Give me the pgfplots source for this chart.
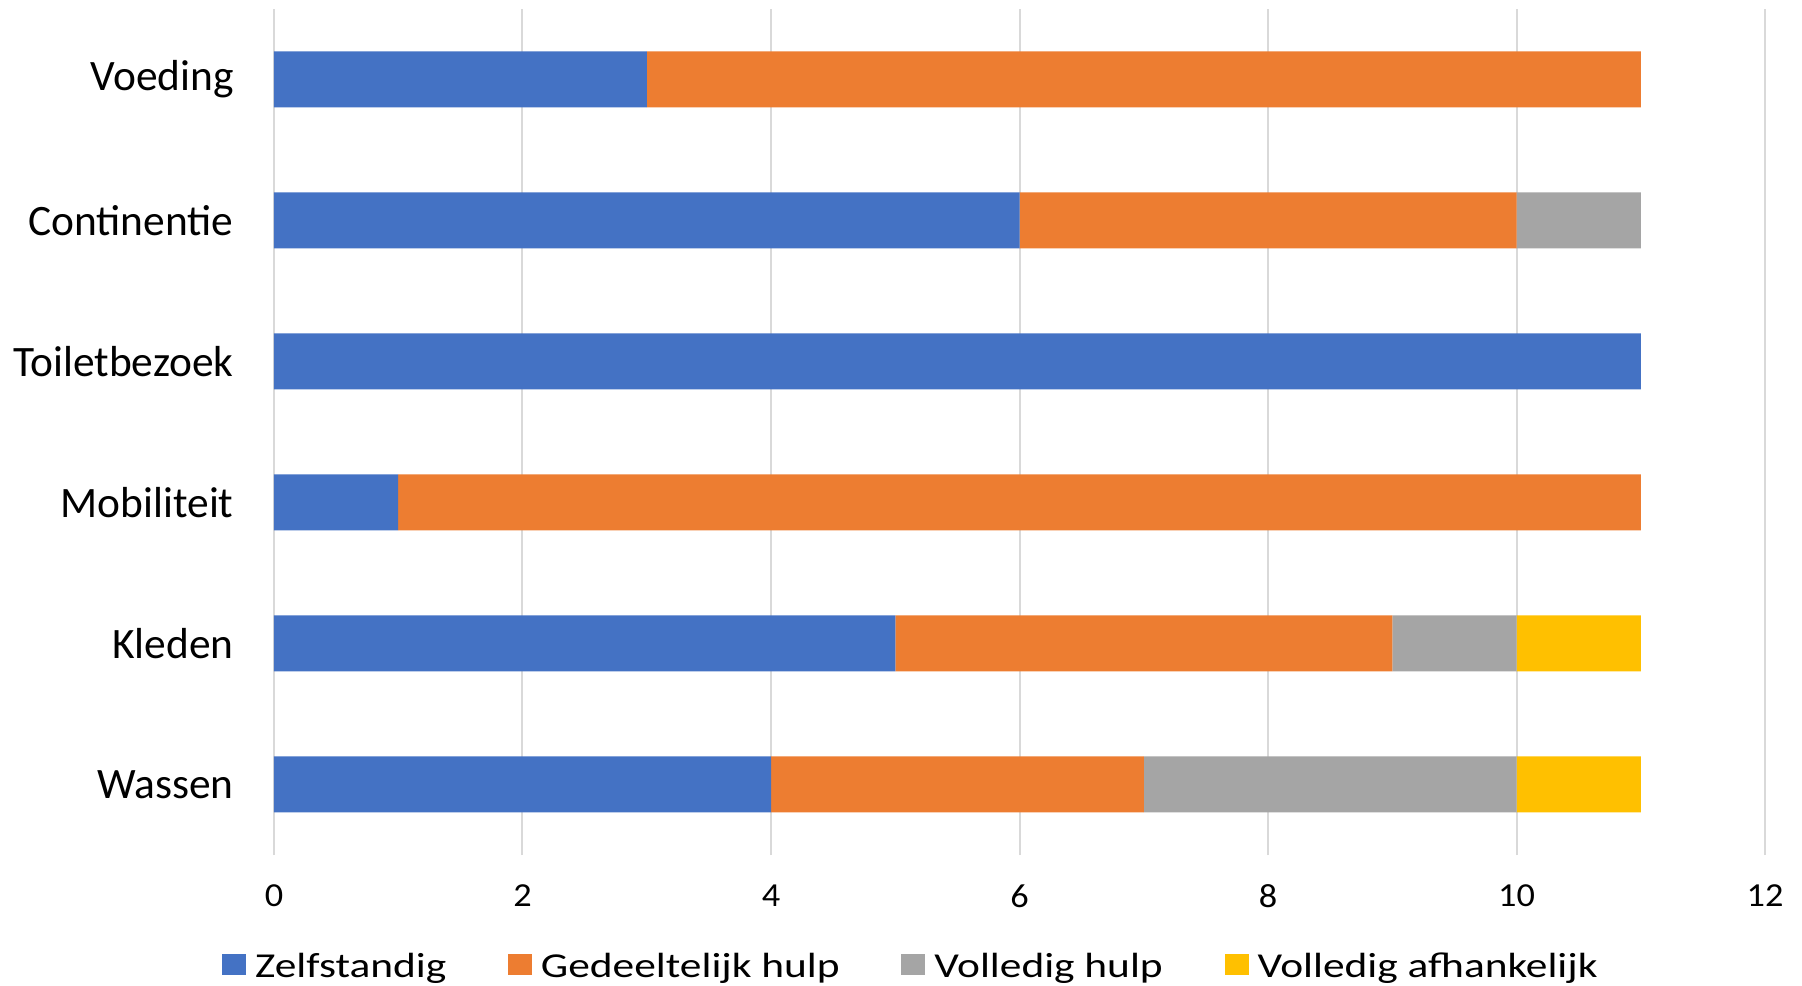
\documentclass[border=0pt]{standalone}
\usepackage{pgfplots}
\pgfplotsset{compat=1.18}
\usepackage{fontspec}
\setmainfont{Carlito}
\newfontfamily\tickfont[FakeStretch=1.08]{Carlito}
\newfontfamily\legfont[FakeStretch=1.24]{Carlito}
\definecolor{cblue}{HTML}{4472C4}
\definecolor{corange}{HTML}{ED7D31}
\definecolor{cgray}{HTML}{A5A5A5}
\definecolor{cyellow}{HTML}{FFC000}
\definecolor{gridgray}{HTML}{D9D9D9}
\begin{document}
\begin{tikzpicture}
\path[use as bounding box] (-137bp,-65.5bp) rectangle (764bp,427.5bp);
\begin{axis}[
  at={(0,0)}, anchor=south west,
  xbar stacked,
  scale only axis,
  width=745.5bp, height=423bp,
  xmin=0, xmax=12, ymin=-0.5, ymax=5.5,
  bar width=28bp,
  ytick={0,1,2,3,4,5},
  yticklabels={Wassen,Kleden,Mobiliteit,Toiletbezoek,Continentie,Voeding},
  xtick={0,2,4,6,8,10,12},
  xmajorgrids,
  grid style={draw=gridgray, line width=1bp},
  axis line style={draw=none},
  major tick length=0pt,
  /pgf/number format/assume math mode=true,
  yticklabel style={font=\fontsize{21.7bp}{26bp}\selectfont, inner sep=0pt, anchor=east, xshift=-20bp},
  xticklabel style={font=\tickfont\fontsize{16.8bp}{20bp}\selectfont, inner sep=0pt, anchor=center, yshift=-20.5bp},
  legend columns=4,
  legend style={
    at={(axis description cs:0.4265,0)}, anchor=center, yshift=-56bp,
    draw=none, fill=none,
    font=\legfont\fontsize{17.5bp}{21bp}\selectfont,
    nodes={inner sep=0pt},
    /tikz/every odd column/.append style={column sep=4.5bp},
    /tikz/every even column/.append style={column sep=30.8bp},
  },
  legend image code/.code={\fill[#1] (0bp,-4bp) rectangle (12bp,6.5bp);},
]
\addplot[fill=cblue, draw=none] coordinates {(4,0) (5,1) (1,2) (11,3) (6,4) (3,5)};
\addlegendentry{Zelfstandig}
\addplot[fill=corange, draw=none] coordinates {(3,0) (4,1) (10,2) (0,3) (4,4) (8,5)};
\addlegendentry{Gedeeltelijk hulp}
\addplot[fill=cgray, draw=none] coordinates {(3,0) (1,1) (0,2) (0,3) (1,4) (0,5)};
\addlegendentry{Volledig hulp}
\addplot[fill=cyellow, draw=none] coordinates {(1,0) (1,1) (0,2) (0,3) (0,4) (0,5)};
\addlegendentry{Volledig afhankelijk}
\end{axis}
\end{tikzpicture}
\end{document}
